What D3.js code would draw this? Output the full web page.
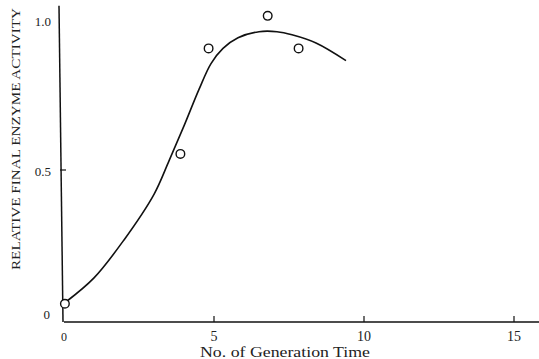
<!DOCTYPE html>
<html><head><meta charset="utf-8">
<script src="https://cdn.jsdelivr.net/npm/d3@7"></script>
<style>body{margin:0;background:#fff}svg{display:block}text{font-family:"Liberation Serif","DejaVu Serif",serif;fill:#222}</style>
</head><body><svg id="c" width="539" height="359"></svg>
<script>
const pointX = [0.03, 3.88, 4.82, 6.79, 7.82];
const pointY = [0.06, 0.553, 0.90, 1.007, 0.90];
const curveX = [0.05, 1.0, 2.0, 3.0, 3.5, 4.0, 4.5, 4.9, 5.3, 5.8, 6.5, 7.1, 7.6, 8.4, 9.4];
const curveY = [0.065, 0.145, 0.27, 0.42, 0.53, 0.645, 0.765, 0.85, 0.90, 0.935, 0.955, 0.955, 0.945, 0.918, 0.86];
const xTicks = [0, 5, 10, 15];
const xTickLabels = ["0", "5", "10", "15"];
const yTicks = [0, 0.5, 1.0];
const yTickLabels = ["0", "0.5", "1.0"];

const svg = d3.select("#c");
const x = d3.scaleLinear().domain([0, 15]).range([64, 514]);
const y = d3.scaleLinear().domain([0, 1]).range([322, 18]);

// axes lines
svg.append("line").attr("x1", x(0)).attr("x2", 539).attr("y1", y(0)).attr("y2", y(0)).attr("stroke", "#111").attr("stroke-width", 1.6);
svg.append("line").attr("x1", x(0)-1).attr("x2", x(0)-5).attr("y1", y(0)).attr("y2", y(1.04)).attr("stroke", "#111").attr("stroke-width", 1.5);

// x ticks
svg.selectAll(".xt").data(xTicks.slice(1)).enter().append("line")
  .attr("x1", d => x(d)).attr("x2", d => x(d)).attr("y1", y(0)).attr("y2", y(0)-6)
  .attr("stroke", "#111").attr("stroke-width", 1.2);
svg.selectAll(".xl").data(xTicks).enter().append("text")
  .attr("x", d => x(d)).attr("y", y(0)+19).attr("text-anchor", "middle")
  .attr("font-size", d => d === 0 ? 12 : 14).text((d, i) => xTickLabels[i]);

// y ticks
svg.selectAll(".yt").data([0.5]).enter().append("line")
  .attr("x1", d => x(0) - 4).attr("x2", d => x(0) + 2).attr("y1", d => y(d)).attr("y2", d => y(d))
  .attr("stroke", "#111").attr("stroke-width", 1.2);
svg.selectAll(".yl").data(yTicks).enter().append("text")
  .attr("x", (d, i) => i === 0 ? 50 : 51).attr("y", (d, i) => y(d) + (i === 0 ? -3 : i === 1 ? 6 : 8))
  .attr("text-anchor", "end").attr("font-size", 13).text((d, i) => yTickLabels[i]);

// axis titles
svg.append("text").attr("x", 285).attr("y", 357).attr("text-anchor", "middle")
  .attr("font-size", 14).attr("textLength", 170).attr("lengthAdjust", "spacingAndGlyphs")
  .text("No. of Generation Time");
svg.append("text").attr("transform", "translate(20,139) rotate(-90)").attr("text-anchor", "middle")
  .attr("font-size", 13).attr("textLength", 262).attr("lengthAdjust", "spacingAndGlyphs")
  .text("RELATIVE FINAL ENZYME ACTIVITY");

// curve
const pts = curveX.map((v, i) => [v, curveY[i]]);
const line = d3.line().x(d => x(d[0])).y(d => y(d[1])).curve(d3.curveCatmullRom.alpha(0.5));
svg.append("path").attr("d", line(pts)).attr("fill", "none").attr("stroke", "#111").attr("stroke-width", 1.6);

// points
svg.selectAll(".pt").data(pointX).enter().append("circle")
  .attr("cx", d => x(d)).attr("cy", (d, i) => y(pointY[i])).attr("r", 4.3)
  .attr("fill", "#fff").attr("stroke", "#111").attr("stroke-width", 1.4);
</script></body></html>
